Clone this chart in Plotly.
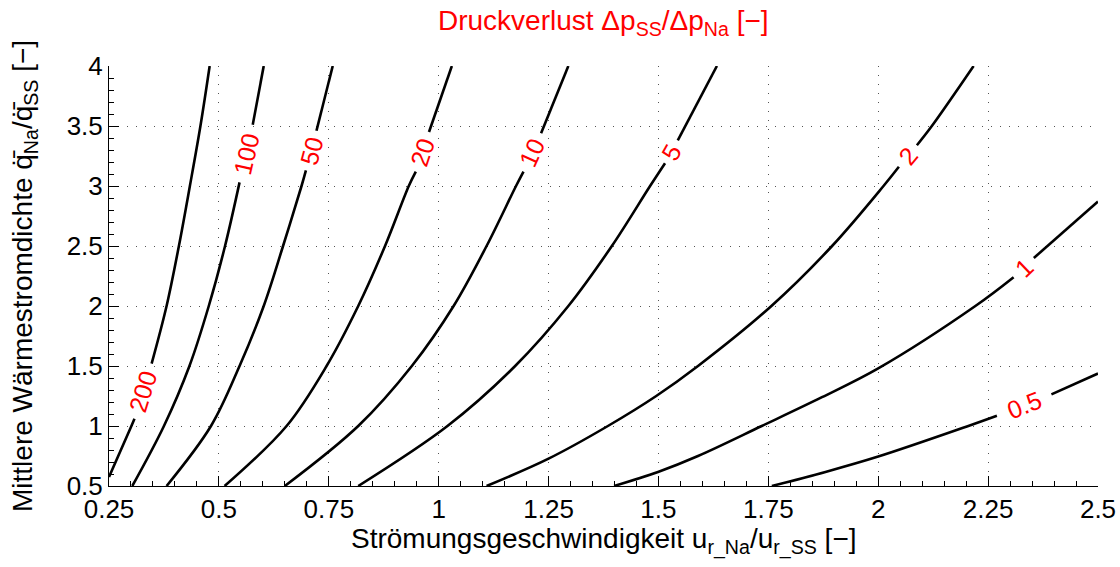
import math
import plotly.graph_objects as go

# ---- data (None marks the gap left for the label) ----
levels = ["200", "100", "50", "20", "10", "5", "2", "1", "0.5"]

x_200 = [0.25, 0.301, 0.308, None, 0.347, 0.381, 0.409, 0.434, 0.458, 0.479]
y_200 = [0.575, 1.0, 1.06, None, 1.52, 2.0, 2.5, 3.0, 3.5, 4.0]

x_100 = [0.303, 0.375, 0.433, 0.477, 0.514, 0.547, None, 0.577, 0.602]
y_100 = [0.5, 1.0, 1.5, 2.0, 2.5, 3.03, None, 3.51, 4.0]

x_50 = [0.381, 0.482, 0.547, 0.602, 0.646, 0.688, 0.698, None, 0.722, 0.759]
y_50 = [0.5, 1.0, 1.5, 2.0, 2.5, 3.0, 3.13, None, 3.46, 4.0]

x_20 = [0.513, 0.654, 0.745, 0.817, 0.878, 0.932, 0.948, None, 0.978, 1.030]
y_20 = [0.5, 1.0, 1.5, 2.0, 2.5, 3.0, 3.12, None, 3.45, 4.0]

x_10 = [0.650, 0.817, 0.939, 1.034, 1.109, 1.176, 1.193, None, 1.233, 1.295]
y_10 = [0.5, 1.0, 1.5, 2.0, 2.5, 3.0, 3.12, None, 3.44, 4.0]

x_5 = [0.817, 1.02, 1.174, 1.295, 1.394, 1.481, 1.515, None, 1.544, 1.633]
y_5 = [0.5, 1.0, 1.5, 2.0, 2.5, 3.0, 3.19, None, 3.38, 4.0]

x_2 = [1.109, 1.250, 1.385, 1.495, 1.590, 1.757, 1.895, 2.012, 2.047, None, 2.088, 2.122, 2.217]
y_2 = [0.5, 0.728, 1.0, 1.25, 1.5, 2.0, 2.5, 3.0, 3.16, None, 3.34, 3.5, 4.0]

x_1 = [1.399, 1.499, 1.590, 1.735, 1.872, 2.0, 2.221, 2.308, None, 2.354, 2.5]
y_1 = [0.5, 0.617, 0.75, 1.0, 1.24, 1.48, 2.0, 2.24, None, 2.40, 2.87]

x_05 = [1.758, 1.880, 2.0, 2.205, 2.27, None, 2.394, 2.5]
y_05 = [0.5, 0.617, 0.745, 1.0, 1.085, None, 1.264, 1.437]

curves_x = [x_200, x_100, x_50, x_20, x_10, x_5, x_2, x_1, x_05]
curves_y = [y_200, y_100, y_50, y_20, y_10, y_5, y_2, y_1, y_05]

x_ticks = [0.25, 0.5, 0.75, 1.0, 1.25, 1.5, 1.75, 2.0, 2.25, 2.5]
x_ticklabels = ["0.25", "0.5", "0.75", "1", "1.25", "1.5", "1.75", "2", "2.25", "2.5"]
y_ticks = [0.5, 1.0, 1.5, 2.0, 2.5, 3.0, 3.5, 4.0]
y_ticklabels = ["0.5", "1", "1.5", "2", "2.5", "3", "3.5", "4"]

title_text = "Druckverlust \u0394p<sub>SS</sub>/\u0394p<sub>Na</sub> [\u2212]"
xlabel_text = "Str\u00f6mungsgeschwindigkeit u<sub>r_Na</sub>/u<sub>r_SS</sub> [\u2212]"
qbar = "q\u0307\u0304"
ylabel_text = "Mittlere W\u00e4rmestromdichte " + qbar + "<sub>Na</sub>/" + qbar + "<sub>SS</sub> [\u2212]"

# ---- figure ----
W, H = 1120, 567
ML, MR, MT, MB = 109, 22, 66, 81
XR = [0.25, 2.5]
YR = [0.5, 4.0]
pw, ph = W - ML - MR, H - MT - MB
sx = pw / (XR[1] - XR[0])
sy = ph / (YR[1] - YR[0])

FONT = "Liberation Sans, Arial, Helvetica, sans-serif"

fig = go.Figure()
annotations = []
for lev, xs, ys in zip(levels, curves_x, curves_y):
    fig.add_trace(go.Scatter(
        x=xs, y=ys, mode="lines", connectgaps=False,
        line=dict(color="black", width=2.6, shape="spline", smoothing=1.0),
        hoverinfo="skip", showlegend=False))
    i = xs.index(None)
    xa, ya, xb, yb = xs[i - 1], ys[i - 1], xs[i + 1], ys[i + 1]
    ang = -math.degrees(math.atan2((yb - ya) * sy, (xb - xa) * sx))
    annotations.append(dict(
        x=(xa + xb) / 2, y=(ya + yb) / 2, xref="x", yref="y",
        text=lev, showarrow=False, textangle=ang,
        font=dict(family=FONT, size=25, color="red"),
        xanchor="center", yanchor="middle"))

# title
annotations.append(dict(
    x=0.5, xref="paper", y=1 + (MT - 23) / ph, yref="paper",
    text=title_text, showarrow=False, xanchor="center", yanchor="middle",
    font=dict(family=FONT, size=28, color="red")))
# x label
annotations.append(dict(
    x=0.5, xref="paper", y=-(541 - (H - MB)) / ph, yref="paper",
    text=xlabel_text, showarrow=False, xanchor="center", yanchor="middle",
    font=dict(family=FONT, size=28, color="black")))
# y label
annotations.append(dict(
    x=(24 - ML) / pw, xref="paper", y=0.5, yref="paper",
    text=ylabel_text, showarrow=False, xanchor="center", yanchor="middle",
    textangle=-90,
    font=dict(family=FONT, size=28, color="black")))

axis_common = dict(
    showline=True, linecolor="black", linewidth=1, mirror=False,
    ticks="inside", ticklen=10, tickwidth=1, tickcolor="black",
    showgrid=True, gridcolor="#555555", gridwidth=1, griddash="1px,8px",
    zeroline=False, automargin=False,
    tickfont=dict(family=FONT, size=26, color="black"),
)

fig.update_xaxes(range=XR, tickvals=x_ticks, ticktext=x_ticklabels,
                 minor=dict(ticks="inside", ticklen=5, tickcolor="black", dtick=0.05, showgrid=False),
                 **axis_common)
fig.update_yaxes(range=YR, tickvals=y_ticks, ticktext=y_ticklabels,
                 minor=dict(ticks="inside", ticklen=5, tickcolor="black", dtick=0.1, showgrid=False),
                 **axis_common)

fig.update_layout(
    width=W, height=H,
    margin=dict(l=ML, r=MR, t=MT, b=MB, pad=0),
    paper_bgcolor="white", plot_bgcolor="white",
    annotations=annotations,
    font=dict(family=FONT, color="black"),
)

fig.write_html("out.html",
               config={"displayModeBar": False, "staticPlot": True},
               post_script="document.body.style.margin='0';document.body.style.overflow='hidden';")
